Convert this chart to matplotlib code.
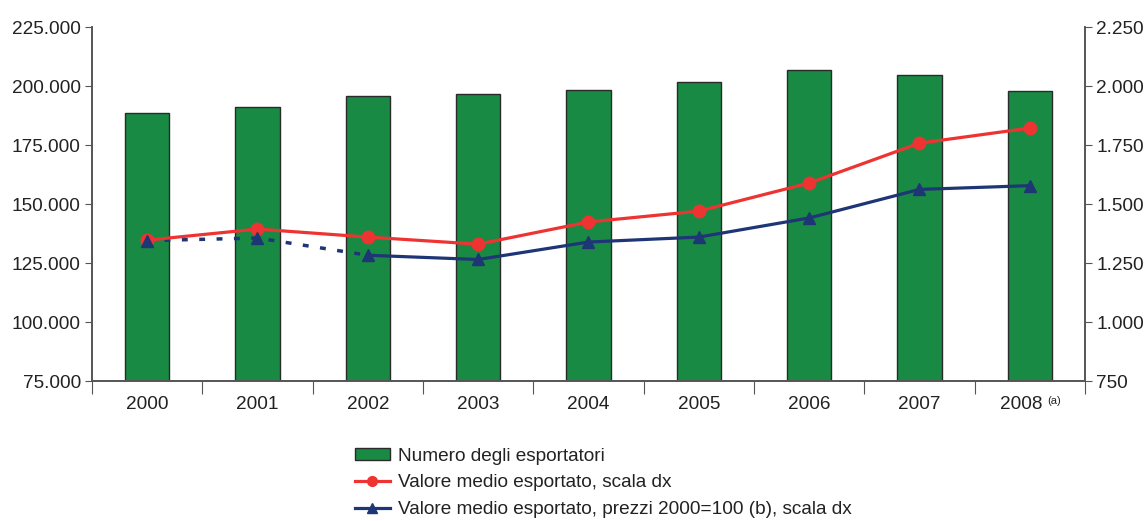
import numpy as np
import matplotlib.pyplot as plt
from matplotlib.ticker import FuncFormatter, FixedLocator
from matplotlib.transforms import ScaledTranslation
from matplotlib.patches import Patch
from matplotlib.lines import Line2D

plt.rcParams["font.family"] = ["Liberation Sans", "DejaVu Sans"]

years = ["2000", "2001", "2002", "2003", "2004", "2005", "2006", "2007", "2008"]
esportatori = [188600, 191100, 195800, 196600, 198300, 201700, 206800, 204700, 197900]
valore_medio = [1347, 1394, 1360, 1330, 1424, 1470, 1589, 1758, 1822]
valore_reale = [1345, 1356, 1283, 1265, 1339, 1360, 1441, 1562, 1578]

GREEN = "#198a44"
RED = "#ee3432"
BLUE = "#1e3675"
SPINE = "#555555"
TEXT = "#222222"
FS = 13.7


def it_fmt(v, pos):
    return f"{int(round(v)):,}".replace(",", ".")


fig = plt.figure(figsize=(11.44, 5.21), dpi=100)
ax = fig.add_axes([0.0804, 0.2687, 0.868, 0.6793])
ax2 = ax.twinx()

x = np.arange(len(years))
ax.bar(x, esportatori, width=0.4, color=GREEN, edgecolor="#2a2a2a", linewidth=1, zorder=2)

ax.set_xlim(-0.5, len(years) - 0.5)
ax.set_ylim(75000, 225000)
ax.set_yticks(np.arange(75000, 225001, 25000))
ax.yaxis.set_major_formatter(FuncFormatter(it_fmt))

ax2.set_ylim(750, 2250)
ax2.set_yticks(np.arange(750, 2251, 250))
ax2.yaxis.set_major_formatter(FuncFormatter(it_fmt))

# lines
ax2.plot(x, valore_medio, color=RED, lw=2.3, marker="o", ms=9, zorder=4)
ax2.plot(x[:3], valore_reale[:3], color=BLUE, lw=2.5, ls=(0, (1.7, 3.3)), zorder=3)
ax2.plot(x[2:], valore_reale[2:], color=BLUE, lw=2.3, zorder=3)
ax2.plot(x, valore_reale, color=BLUE, lw=0, marker="^", ms=9, zorder=5)

# x ticks between categories, labels at category centres
ax.xaxis.set_major_locator(FixedLocator(np.arange(-0.5, len(years), 1.0)))
ax.set_xticklabels([])
ax.xaxis.set_minor_locator(FixedLocator(x))
ax.set_xticklabels(years[:-1] + [""], minor=True)
ax.tick_params(axis="x", which="major", length=9, color=SPINE, direction="out")
ax.tick_params(axis="x", which="minor", length=0, pad=11, labelsize=FS, labelcolor=TEXT)
lab_tr = ax.get_xaxis_transform() + ScaledTranslation(0, -11 / 72, fig.dpi_scale_trans)
ax.text(x[-1] - 0.075, 0, years[-1], transform=lab_tr, fontsize=FS, color=TEXT,
        ha="center", va="top")
ax.text(x[-1] + 0.155, 0, "(a)", transform=lab_tr, fontsize=8, color=TEXT,
        ha="left", va="top")

for a in (ax, ax2):
    a.spines["top"].set_visible(False)
    for s in ("left", "right", "bottom"):
        a.spines[s].set_color(SPINE)
        a.spines[s].set_linewidth(1.2)
ax.tick_params(axis="y", length=5, color=SPINE, labelsize=FS, labelcolor=TEXT, pad=3)
ax2.tick_params(axis="y", length=5, color=SPINE, labelsize=FS, labelcolor=TEXT, pad=3)
ax.set_zorder(ax2.get_zorder() - 1)
ax2.patch.set_visible(False)

handles = [
    Patch(facecolor=GREEN, edgecolor="#2a2a2a", linewidth=1),
    Line2D([], [], color=RED, lw=2.3, marker="o", ms=7),
    Line2D([], [], color=BLUE, lw=2.3, marker="^", ms=7),
]
labels = [
    "Numero degli esportatori",
    "Valore medio esportato, scala dx",
    "Valore medio esportato, prezzi 2000=100 (b), scala dx",
]
fig.legend(handles, labels, loc="upper left", bbox_to_anchor=(0.310, 0.141), frameon=False,
           fontsize=FS, handlelength=1.85, handleheight=0.55, labelspacing=0.52,
           handletextpad=0.42, borderaxespad=0, borderpad=0, labelcolor=TEXT)

fig.savefig("out.png", dpi=100)
